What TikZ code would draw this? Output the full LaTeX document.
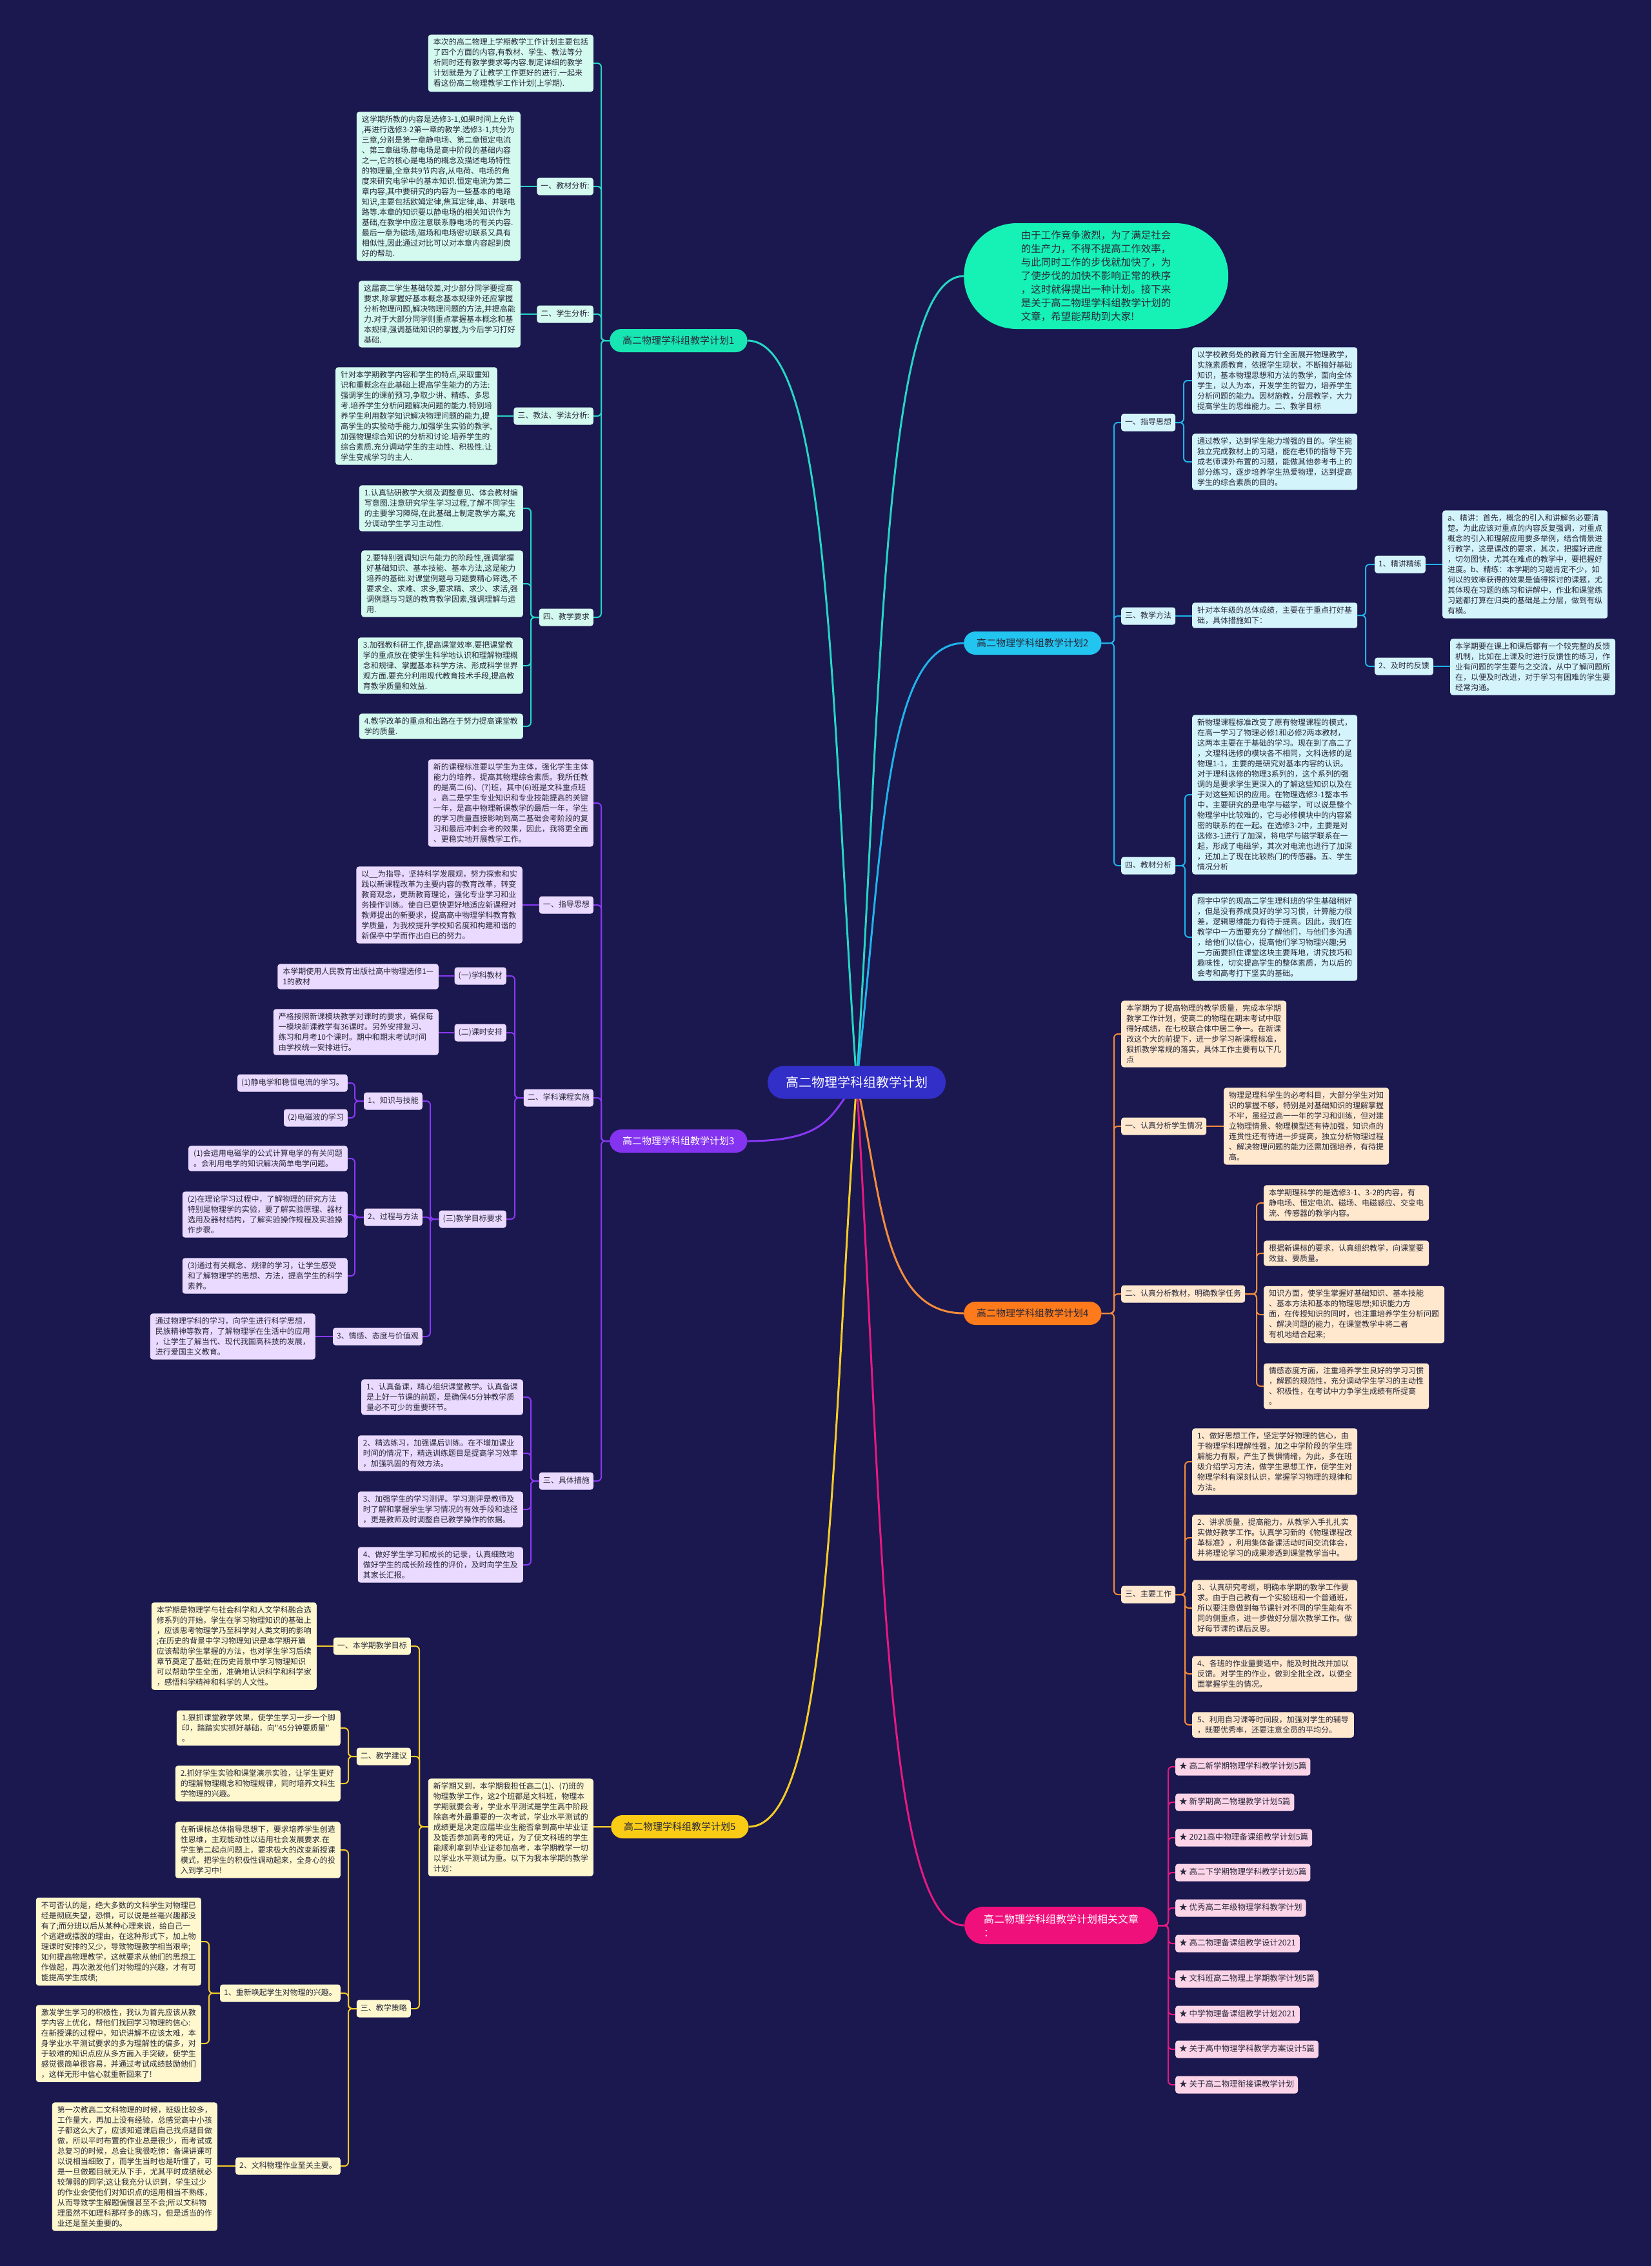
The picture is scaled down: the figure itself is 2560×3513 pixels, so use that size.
\documentclass[tikz,border=0pt]{standalone}
\usepackage{fontspec}
\newfontfamily\cjk{Noto Sans CJK SC}
\usetikzlibrary{calc}
\pgfdeclarelayer{bgl}
\pgfdeclarelayer{lnl}
\pgfsetlayers{bgl,lnl,main}
\definecolor{bgc}{RGB}{26,24,78}
\definecolor{txt}{RGB}{40,40,58}
\definecolor{ctrF}{RGB}{50,46,200}
\definecolor{introF}{RGB}{22,242,182}
\definecolor{tealD}{RGB}{38,214,196}
\definecolor{tealF}{RGB}{24,230,178}
\definecolor{tealL}{RGB}{212,250,240}
\definecolor{cyanD}{RGB}{30,180,235}
\definecolor{cyanF}{RGB}{34,196,240}
\definecolor{cyanL}{RGB}{212,244,252}
\definecolor{purD}{RGB}{138,56,245}
\definecolor{purF}{RGB}{132,52,240}
\definecolor{purL}{RGB}{234,218,255}
\definecolor{orgD}{RGB}{245,140,60}
\definecolor{orgF}{RGB}{255,122,26}
\definecolor{orgL}{RGB}{255,232,206}
\definecolor{yelD}{RGB}{245,205,40}
\definecolor{yelF}{RGB}{250,204,22}
\definecolor{yelL}{RGB}{255,248,206}
\definecolor{magD}{RGB}{232,24,130}
\definecolor{magF}{RGB}{240,16,124}
\definecolor{magL}{RGB}{252,212,232}
\newcommand\conL[4]{\draw[#1] (#2.west) -- (#2.west -| #4) |- (#3.east);}
\newcommand\conR[4]{\draw[#1] (#2.east) -- (#2.east -| #4) |- (#3.west);}
\newcommand\strL[3]{\draw[#1] (#2.west) -- (#2.west -| #3.east);}
\newcommand\strR[3]{\draw[#1] (#2.east) -- (#2.east -| #3.west);}
\tikzset{
  boxbase/.style={rounded corners=4pt, inner xsep=8pt, inner ysep=6pt, align=left, text=txt, font={\cjk\fontsize{12}{16}\selectfont}},
  lblbase/.style={rounded corners=4pt, inner xsep=6pt, inner ysep=7pt, text height=10pt, text depth=3pt, text=txt, font={\cjk\fontsize{12}{16}\selectfont}},
  mainbr/.style={rounded corners=18pt, minimum height=36pt, inner xsep=20pt, inner ysep=0pt, font={\cjk\fontsize{15}{18}\selectfont}},
  tbox/.style={boxbase, fill=tealL}, tlbl/.style={lblbase, fill=tealL},
  cbox/.style={boxbase, fill=cyanL}, clbl/.style={lblbase, fill=cyanL},
  pbox/.style={boxbase, fill=purL}, plbl/.style={lblbase, fill=purL},
  obox/.style={boxbase, fill=orgL}, olbl/.style={lblbase, fill=orgL},
  ybox/.style={boxbase, fill=yelL}, ylbl/.style={lblbase, fill=yelL},
  mlbl/.style={lblbase, fill=magL, font={\cjk\fontsize{12.5}{16}\selectfont}},
  tln/.style={draw=tealD, line width=2pt, rounded corners=6pt},
  cln/.style={draw=cyanD, line width=2pt, rounded corners=6pt},
  pln/.style={draw=purD, line width=2pt, rounded corners=6pt},
  oln/.style={draw=orgD, line width=2pt, rounded corners=6pt},
  yln/.style={draw=yelD, line width=2pt, rounded corners=6pt},
  mln/.style={draw=magD, line width=2pt, rounded corners=6pt},
}
\begin{document}
\begin{tikzpicture}[x=1pt,y=-1pt]
\useasboundingbox (0,0) rectangle (2560,3513);
\begin{pgfonlayer}{bgl}
\fill[bgc] (0,0) rectangle (2560,3513);
\end{pgfonlayer}

% ---------- center ----------
\node[fill=ctrF, text=white, rounded corners=25pt, minimum height=51pt, inner xsep=28pt, inner ysep=0pt, font={\cjk\fontsize{20}{24}\selectfont}] (ctr) at (1328,1678) {高二物理学科组教学计划};

% ---------- main branches ----------
\node[mainbr, fill=tealF, text=txt, anchor=west] (b1) at (945,528) {高二物理学科组教学计划1};
\node[mainbr, fill=purF, text=white, anchor=west] (b3) at (945,1769) {高二物理学科组教学计划3};
\node[mainbr, fill=yelF, text=txt, anchor=west] (b5) at (947,2832) {高二物理学科组教学计划5};
\node[mainbr, fill=cyanF, text=txt, anchor=west] (b2) at (1494,997) {高二物理学科组教学计划2};
\node[mainbr, fill=orgF, text=txt, anchor=west] (b4) at (1494,2036) {高二物理学科组教学计划4};
\node[fill=magF, text=white, anchor=west, rounded corners=29pt, minimum height=58pt, inner xsep=30pt, inner ysep=10pt, align=left, font={\cjk\fontsize{16}{21}\selectfont}] (rel) at (1495,2985) {高二物理学科组教学计划相关文章\\：};
\node[fill=introF, text=txt, anchor=west, rounded corners=82pt, minimum width=410pt, minimum height=164pt, align=left, font={\cjk\fontsize{15.5}{21}\selectfont}] (intro) at (1494,428) {由于工作竞争激烈，为了满足社会\\的生产力，不得不提高工作效率，\\与此同时工作的步伐就加快了，为\\了使步伐的加快不影响正常的秩序\\，这时就得提出一种计划。接下来\\是关于高二物理学科组教学计划的\\文章，希望能帮助到大家!};

% ---------- section 1 ----------
\node[tbox, anchor=east] (s1i) at (920,98) {本次的高二物理上学期教学工作计划主要包括\\了四个方面的内容,有教材、学生、教法等分\\析同时还有教学要求等内容.制定详细的教学\\计划就是为了让教学工作更好的进行.一起来\\看这份高二物理教学工作计划(上学期).};
\node[tlbl, anchor=east] (s1a) at (920,289) {一、教材分析:};
\node[tbox, anchor=east] (s1ab) at (807,289) {这学期所教的内容是选修3-1,如果时间上允许\\,再进行选修3-2第一章的教学.选修3-1,共分为\\三章,分别是第一章静电场、第二章恒定电流\\、第三章磁场.静电场是高中阶段的基础内容\\之一,它的核心是电场的概念及描述电场特性\\的物理量,全章共9节内容,从电荷、电场的角\\度来研究电学中的基本知识.恒定电流为第二\\章内容,其中要研究的内容为一些基本的电路\\知识,主要包括欧姆定律,焦耳定律,串、并联电\\路等.本章的知识要以静电场的相关知识作为\\基础,在教学中应注意联系静电场的有关内容.\\最后一章为磁场,磁场和电场密切联系又具有\\相似性,因此通过对比可以对本章内容起到良\\好的帮助.};
\node[tlbl, anchor=east] (s1b) at (920,487) {二、学生分析:};
\node[tbox, anchor=east] (s1bb) at (807,487) {这届高二学生基础较差,对少部分同学要提高\\要求,除掌握好基本概念基本规律外还应掌握\\分析物理问题,解决物理问题的方法,并提高能\\力.对于大部分同学则重点掌握基本概念和基\\本规律,强调基础知识的掌握,为今后学习打好\\基础.};
\node[tlbl, anchor=east] (s1c) at (920,645) {三、教法、学法分析:};
\node[tbox, anchor=east] (s1cb) at (771,645) {针对本学期教学内容和学生的特点,采取重知\\识和重概念在此基础上提高学生能力的方法:\\强调学生的课前预习,争取少讲、精练、多思\\考.培养学生分析问题解决问题的能力.特别培\\养学生利用数学知识解决物理问题的能力,提\\高学生的实验动手能力,加强学生实验的教学,\\加强物理综合知识的分析和讨论.培养学生的\\综合素质.充分调动学生的主动性、积极性.让\\学生变成学习的主人.};
\node[tlbl, anchor=east] (s1d) at (920,957) {四、教学要求};
\node[tbox, anchor=east] (s1d1) at (811,788) {1.认真钻研教学大纲及调整意见、体会教材编\\写意图.注意研究学生学习过程,了解不同学生\\的主要学习障碍,在此基础上制定教学方案,充\\分调动学生学习主动性.};
\node[tbox, anchor=east] (s1d2) at (811,905) {2.要特别强调知识与能力的阶段性,强调掌握\\好基础知识、基本技能、基本方法,这是能力\\培养的基础.对课堂例题与习题要精心筛选,不\\要求全、求难、求多,要求精、求少、求活,强\\调例题与习题的教育教学因素,强调理解与运\\用.};
\node[tbox, anchor=east] (s1d3) at (811,1032) {3.加强教科研工作,提高课堂效率.要把课堂教\\学的重点放在使学生科学地认识和理解物理概\\念和规律、掌握基本科学方法、形成科学世界\\观方面.要充分利用现代教育技术手段,提高教\\育教学质量和效益.};
\node[tbox, anchor=east] (s1d4) at (811,1126) {4.教学改革的重点和出路在于努力提高课堂教\\学的质量.};

% ---------- section 3 ----------
\node[pbox, anchor=east] (s3i) at (920,1245) {新的课程标准要以学生为主体，强化学生主体\\能力的培养，提高其物理综合素质。我所任教\\的是高二(6)、(7)班，其中(6)班是文科重点班\\。高二是学生专业知识和专业技能提高的关键\\一年，是高中物理新课教学的最后一年，学生\\的学习质量直接影响到高二基础会考阶段的复\\习和最后冲刺会考的效果，因此，我将更全面\\、更稳实地开展教学工作。};
\node[plbl, anchor=east] (s3a) at (920,1403) {一、指导思想};
\node[pbox, anchor=east] (s3ab) at (810,1403) {以\_\_为指导，坚持科学发展观，努力探索和实\\践以新课程改革为主要内容的教育改革，转变\\教育观念，更新教育理论，强化专业学习和业\\务操作训练。使自已更快更好地适应新课程对\\教师提出的新要求，提高高中物理学科教育教\\学质量，为我校提升学校知名度和构建和谐的\\新保亭中学而作出自已的努力。};
\node[plbl, anchor=east] (s3b) at (920,1702) {二、学科课程实施};
\node[plbl, anchor=east] (s3b1) at (785,1513) {(一)学科教材};
\node[pbox, anchor=east] (s3b1b) at (680,1514) {本学期使用人民教育出版社高中物理选修1—\\1的教材};
\node[plbl, anchor=east] (s3b2) at (785,1601) {(二)课时安排};
\node[pbox, anchor=east] (s3b2b) at (680,1600) {严格按照新课模块教学对课时的要求，确保每\\一模块新课教学有36课时。另外安排复习、\\练习和月考10个课时。期中和期末考试时间\\由学校统一安排进行。};
\node[plbl, anchor=east] (s3b3) at (785,1890) {(三)教学目标要求};
\node[plbl, anchor=east] (s3k) at (655,1707) {1、知识与技能};
\node[plbl, anchor=east] (s3k1) at (539,1679) {(1)静电学和稳恒电流的学习。};
\node[plbl, anchor=east] (s3k2) at (539,1733) {(2)电磁波的学习};
\node[plbl, anchor=east] (s3g) at (655,1887) {2、过程与方法};
\node[pbox, anchor=east] (s3g1) at (539,1796) {(1)会运用电磁学的公式计算电学的有关问题\\。会利用电学的知识解决简单电学问题。};
\node[pbox, anchor=east] (s3g2) at (539,1883) {(2)在理论学习过程中，了解物理的研究方法\\特别是物理学的实验，要了解实验原理、器材\\选用及器材结构，了解实验操作规程及实验操\\作步骤。};
\node[pbox, anchor=east] (s3g3) at (539,1978) {(3)通过有关概念、规律的学习，让学生感受\\和了解物理学的思想、方法，提高学生的科学\\素养。};
\node[plbl, anchor=east] (s3e) at (655,2072) {3、情感、态度与价值观};
\node[pbox, anchor=east] (s3eb) at (489,2072) {通过物理学科的学习，向学生进行科学思想，\\民族精神等教育，了解物理学在生活中的应用\\，让学生了解当代、现代我国高科技的发展，\\进行爱国主义教育。};
\node[plbl, anchor=east] (s3c) at (920,2296) {三、具体措施};
\node[pbox, anchor=east] (s3c1) at (811,2166) {1、认真备课，精心组织课堂教学。认真备课\\是上好一节课的前题，是确保45分钟教学质\\量必不可少的重要环节。};
\node[pbox, anchor=east] (s3c2) at (811,2253) {2、精选练习，加强课后训练。在不增加课业\\时间的情况下，精选训练题目是提高学习效率\\，加强巩固的有效方法。};
\node[pbox, anchor=east] (s3c3) at (811,2340) {3、加强学生的学习测评。学习测评是教师及\\时了解和掌握学生学习情况的有效手段和途径\\，更是教师及时调整自已教学操作的依据。};
\node[pbox, anchor=east] (s3c4) at (811,2426) {4、做好学生学习和成长的记录，认真细致地\\做好学生的成长阶段性的评价，及时向学生及\\其家长汇报。};

% ---------- section 5 ----------
\node[ybox, anchor=east] (s5i) at (920,2833) {新学期又到，本学期我担任高二(1)、(7)班的\\物理教学工作，这2个班都是文科班，物理本\\学期就要会考，学业水平测试是学生高中阶段\\除高考外最重要的一次考试，学业水平测试的\\成绩更是决定应届毕业生能否拿到高中毕业证\\及能否参加高考的凭证，为了使文科班的学生\\能顺利拿到毕业证参加高考，本学期教学一切\\以学业水平测试为重。以下为我本学期的教学\\计划：};
\node[ylbl, anchor=east] (s5a) at (637,2552) {一、本学期教学目标};
\node[ybox, anchor=east] (s5ab) at (491,2552) {本学期是物理学与社会科学和人文学科融合选\\修系列的开始，学生在学习物理知识的基础上\\，应该思考物理学乃至科学对人类文明的影响\\;在历史的背景中学习物理知识是本学期开篇\\应该帮助学生掌握的方法，也对学生学习后续\\章节奠定了基础;在历史背景中学习物理知识\\可以帮助学生全面，准确地认识科学和科学家\\，感悟科学精神和科学的人文性。};
\node[ylbl, anchor=east] (s5b) at (637,2723) {二、教学建议};
\node[ybox, anchor=east] (s5b1) at (528,2679) {1.狠抓课堂教学效果，使学生学习一步一个脚\\印，踏踏实实抓好基础，向"45分钟要质量"\\。};
\node[ybox, anchor=east] (s5b2) at (528,2765) {2.抓好学生实验和课堂演示实验，让学生更好\\的理解物理概念和物理规律，同时培养文科生\\学物理的兴趣。};
\node[ylbl, anchor=east] (s5c) at (637,3114) {三、教学策略};
\node[ybox, anchor=east] (s5c0) at (528,2868) {在新课标总体指导思想下，要求培养学生创造\\性思维，主观能动性以适用社会发展要求.在\\学生第二起点问题上，要求极大的改变新授课\\模式，把学生的积极性调动起来，全身心的投\\入到学习中!};
\node[ylbl, anchor=east] (s5c1) at (528,3090) {1、重新唤起学生对物理的兴趣。};
\node[ybox, anchor=east] (s5c1a) at (312,3010) {不可否认的是，绝大多数的文科学生对物理已\\经是彻底失望，恐惧，可以说是丝毫兴趣都没\\有了;而分班以后从某种心理来说，给自己一\\个逃避或摆脱的理由，在这种形式下，加上物\\理课时安排的又少，导致物理教学相当艰辛;\\如何提高物理教学，这就要求从他们的思想工\\作做起，再次激发他们对物理的兴趣，才有可\\能提高学生成绩;};
\node[ybox, anchor=east] (s5c1b) at (312,3168) {激发学生学习的积极性，我认为首先应该从教\\学内容上优化，帮他们找回学习物理的信心:\\在新授课的过程中，知识讲解不应该太难，本\\身学业水平测试要求的多为理解性的偏多，对\\于较难的知识点应从多方面入手突破，使学生\\感觉很简单很容易，并通过考试成绩鼓励他们\\，这样无形中信心就重新回来了!};
\node[ylbl, anchor=east] (s5c2) at (528,3358) {2、文科物理作业至关主要。};
\node[ybox, anchor=east] (s5c2a) at (337,3359) {第一次教高二文科物理的时候，班级比较多，\\工作量大，再加上没有经验，总感觉高中小孩\\子都这么大了，应该知道课后自己找点题目做\\做，所以平时布置的作业总是很少，而考试或\\总复习的时候，总会让我很吃惊：备课讲课可\\以说相当细致了，而学生当时也是听懂了，可\\是一旦做题目就无从下手，尤其平时成绩就必\\较薄弱的同学;这让我充分认识到，学生过少\\的作业会使他们对知识点的运用相当不熟练，\\从而导致学生解题偏慢甚至不会;所以文科物\\理虽然不如理科那样多的练习，但是适当的作\\业还是至关重要的。};

% ---------- section 2 ----------
\node[clbl, anchor=west] (s2a) at (1738,655) {一、指导思想};
\node[cbox, anchor=west] (s2a1) at (1848,590) {以学校教务处的教育方针全面展开物理教学，\\实施素质教育，依据学生现状，不断搞好基础\\知识，基本物理思想和方法的教学，面向全体\\学生，以人为本，开发学生的智力，培养学生\\分析问题的能力。因材施教，分层教学，大力\\提高学生的思维能力。二、教学目标};
\node[cbox, anchor=west] (s2a2) at (1848,716) {通过教学，达到学生能力增强的目的。学生能\\独立完成教材上的习题，能在老师的指导下完\\成老师课外布置的习题，能做其他参考书上的\\部分练习，逐步培养学生热爱物理，达到提高\\学生的综合素质的目的。};
\node[clbl, anchor=west] (s2b) at (1738,955) {三、教学方法};
\node[cbox, anchor=west] (s2bb) at (1848,954) {针对本年级的总体成绩，主要在于重点打好基\\础，具体措施如下：};
\node[clbl, anchor=west] (s2b1) at (2131,875) {1、精讲精练};
\node[cbox, anchor=west] (s2b1a) at (2236,875) {a、精讲：首先，概念的引入和讲解务必要清\\楚。为此应该对重点的内容反复强调，对重点\\概念的引入和理解应用要多举例，结合情景进\\行教学，这是课改的要求，其次，把握好进度\\，切勿图快，尤其在难点的教学中，要把握好\\进度。b、精练：本学期的习题肯定不少，如\\何以的效率获得的效果是值得探讨的课题，尤\\其体现在习题的练习和讲解中，作业和课堂练\\习题都打算在归类的基础是上分层，做到有纵\\有横。};
\node[clbl, anchor=west] (s2b2) at (2131,1033) {2、及时的反馈};
\node[cbox, anchor=west] (s2b2a) at (2248,1034) {本学期要在课上和课后都有一个较完整的反馈\\机制，比如在上课及时进行反馈性的练习，作\\业有问题的学生要与之交流，从中了解问题所\\在，以便及时改进，对于学习有困难的学生要\\经常沟通。};
\node[clbl, anchor=west] (s2c) at (1738,1342) {四、教材分析};
\node[cbox, anchor=west] (s2c1) at (1848,1232) {新物理课程标准改变了原有物理课程的模式，\\在高一学习了物理必修1和必修2两本教材，\\这两本主要在于基础的学习。现在到了高二了\\，文理科选修的模块各不相同，文科选修的是\\物理1-1，主要的是研究对基本内容的认识。\\对于理科选修的物理3系列的，这个系列的强\\调的是要求学生更深入的了解这些知识以及在\\于对这些知识的应用。在物理选修3-1整本书\\中，主要研究的是电学与磁学，可以说是整个\\物理学中比较难的，它与必修模块中的内容紧\\密的联系的在一起。在选修3-2中，主要是对\\选修3-1进行了加深，将电学与磁学联系在一\\起，形成了电磁学，其次对电流也进行了加深\\，还加上了现在比较热门的传感器。五、学生\\情况分析};
\node[cbox, anchor=west] (s2c2) at (1848,1453) {翔宇中学的现高二学生理科班的学生基础稍好\\，但是没有养成良好的学习习惯，计算能力很\\差，逻辑思维能力有待于提高。因此，我们在\\教学中一方面要充分了解他们，与他们多沟通\\，给他们以信心，提高他们学习物理兴趣;另\\一方面要抓住课堂这块主要阵地，讲究技巧和\\趣味性，切实提高学生的整体素质，为以后的\\会考和高考打下坚实的基础。};

% ---------- section 4 ----------
\node[obox, anchor=west] (s4i) at (1738,1603) {本学期为了提高物理的教学质量，完成本学期\\教学工作计划，使高二的物理在期末考试中取\\得好成绩，在七校联合体中居二争一。在新课\\改这个大的前提下，进一步学习新课程标准，\\狠抓教学常规的落实，具体工作主要有以下几\\点};
\node[olbl, anchor=west] (s4a) at (1738,1746) {一、认真分析学生情况};
\node[obox, anchor=west] (s4ab) at (1897,1746) {物理是理科学生的必考科目，大部分学生对知\\识的掌握不够，特别是对基础知识的理解掌握\\不牢，虽经过高一一年的学习和训练，但对建\\立物理情景、物理模型还有待加强，知识点的\\连贯性还有待进一步提高，独立分析物理过程\\、解决物理问题的能力还需加强培养，有待提\\高。};
\node[olbl, anchor=west] (s4b) at (1738,2006) {二、认真分析教材，明确教学任务};
\node[obox, anchor=west] (s4b1) at (1959,1865) {本学期理科学的是选修3-1、3-2的内容，有\\静电场、恒定电流、磁场、电磁感应、交变电\\流、传感器的教学内容。};
\node[obox, anchor=west] (s4b2) at (1959,1943) {根据新课标的要求，认真组织教学，向课堂要\\效益、要质量。};
\node[obox, anchor=west] (s4b3) at (1959,2038) {知识方面，使学生掌握好基础知识、基本技能\\、基本方法和基本的物理思想;知识能力方\\面，在传授知识的同时，也注重培养学生分析问题\\、解决问题的能力，在课堂教学中将二者\\有机地结合起来;};
\node[obox, anchor=west] (s4b4) at (1959,2149) {情感态度方面，注重培养学生良好的学习习惯\\，解题的规范性，充分调动学生学习的主动性\\、积极性，在考试中力争学生成绩有所提高\\。};
\node[olbl, anchor=west] (s4c) at (1738,2472) {三、主要工作};
\node[obox, anchor=west] (s4c1) at (1848,2266) {1、做好思想工作，坚定学好物理的信心，由\\于物理学科理解性强，加之中学阶段的学生理\\解能力有限，产生了畏惧情绪，为此，多在班\\级介绍学习方法，做学生思想工作，使学生对\\物理学科有深刻认识，掌握学习物理的规律和\\方法。};
\node[obox, anchor=west] (s4c2) at (1848,2384) {2、讲求质量，提高能力，从教学入手扎扎实\\实做好教学工作。认真学习新的《物理课程改\\革标准》，利用集体备课活动时间交流体会，\\并将理论学习的成果渗透到课堂教学当中。};
\node[obox, anchor=west] (s4c3) at (1848,2493) {3、认真研究考纲，明确本学期的教学工作要\\求。由于自己教有一个实验班和一个普通班，\\所以要注意做到每节课针对不同的学生能有不\\同的侧重点，进一步做好分层次教学工作。做\\好每节课的课后反思。};
\node[obox, anchor=west] (s4c4) at (1848,2595) {4、各班的作业量要适中，能及时批改并加以\\反馈。对学生的作业，做到全批全改，以便全\\面掌握学生的情况。};
\node[obox, anchor=west] (s4c5) at (1848,2674) {5、利用自习课等时间段，加强对学生的辅导\\，既要优秀率，还要注意全员的平均分。};

% ---------- related ----------
\node[mlbl, anchor=west] (r1) at (1822,2739) {★ 高二新学期物理学科教学计划5篇};
\node[mlbl, anchor=west] (r2) at (1822,2794) {★ 新学期高二物理教学计划5篇};
\node[mlbl, anchor=west] (r3) at (1822,2849) {★ 2021高中物理备课组教学计划5篇};
\node[mlbl, anchor=west] (r4) at (1822,2903) {★ 高二下学期物理学科教学计划5篇};
\node[mlbl, anchor=west] (r5) at (1822,2958) {★ 优秀高二年级物理学科教学计划};
\node[mlbl, anchor=west] (r6) at (1822,3013) {★ 高二物理备课组教学设计2021};
\node[mlbl, anchor=west] (r7) at (1822,3068) {★ 文科班高二物理上学期教学计划5篇};
\node[mlbl, anchor=west] (r8) at (1822,3123) {★ 中学物理备课组教学计划2021};
\node[mlbl, anchor=west] (r9) at (1822,3177) {★ 关于高中物理学科教学方案设计5篇};
\node[mlbl, anchor=west] (r10) at (1822,3232) {★ 关于高二物理衔接课教学计划};

% ---------- trunk coordinates ----------
\coordinate (t1) at (932,0);
\coordinate (t1d) at (823,0);
\coordinate (t3) at (932,0);
\coordinate (t3b) at (798,0);
\coordinate (t3b3) at (667,0);
\coordinate (t3k) at (550,0);
\coordinate (t3c) at (823,0);
\coordinate (t5) at (650,0);
\coordinate (t5b) at (540,0);
\coordinate (t5c1) at (324,0);
\coordinate (t2) at (1727,0);
\coordinate (t2a) at (1835,0);
\coordinate (t2b) at (2117,0);
\coordinate (t2c) at (1837,0);
\coordinate (t4) at (1727,0);
\coordinate (t4b) at (1948,0);
\coordinate (t4c) at (1837,0);
\coordinate (t6) at (1811,0);

\begin{pgfonlayer}{lnl}
% center connectors
\draw[draw=tealD, line width=3pt] (b1.east) .. controls (1288,528) and (1288,1103) .. (ctr.center);
\draw[draw=purD, line width=3pt] (b3.east) .. controls (1288,1769) and (1288,1724) .. (ctr.center);
\draw[draw=yelD, line width=3pt] (b5.east) .. controls (1288,2832) and (1288,2255) .. (ctr.center);
\draw[draw=tealD, line width=3pt] (intro.west) .. controls (1368,428) and (1368,1053) .. (ctr.center);
\draw[draw=cyanD, line width=3pt] (b2.west) .. controls (1368,997) and (1368,1338) .. (ctr.center);
\draw[draw=orgD, line width=3pt] (b4.west) .. controls (1368,2036) and (1368,1857) .. (ctr.center);
\draw[draw=magD, line width=3pt] (rel.west) .. controls (1368,2985) and (1368,2332) .. (ctr.center);
% section 1
\conL{tln}{b1}{s1i}{t1}
\conL{tln}{b1}{s1a}{t1}
\conL{tln}{b1}{s1b}{t1}
\conL{tln}{b1}{s1c}{t1}
\conL{tln}{b1}{s1d}{t1}
\strL{tln}{s1a}{s1ab}
\strL{tln}{s1b}{s1bb}
\strL{tln}{s1c}{s1cb}
\conL{tln}{s1d}{s1d1}{t1d}
\conL{tln}{s1d}{s1d2}{t1d}
\conL{tln}{s1d}{s1d3}{t1d}
\conL{tln}{s1d}{s1d4}{t1d}
% section 3
\conL{pln}{b3}{s3i}{t3}
\conL{pln}{b3}{s3a}{t3}
\conL{pln}{b3}{s3b}{t3}
\conL{pln}{b3}{s3c}{t3}
\strL{pln}{s3a}{s3ab}
\conL{pln}{s3b}{s3b1}{t3b}
\conL{pln}{s3b}{s3b2}{t3b}
\conL{pln}{s3b}{s3b3}{t3b}
\strL{pln}{s3b1}{s3b1b}
\strL{pln}{s3b2}{s3b2b}
\conL{pln}{s3b3}{s3k}{t3b3}
\conL{pln}{s3b3}{s3g}{t3b3}
\conL{pln}{s3b3}{s3e}{t3b3}
\conL{pln}{s3k}{s3k1}{t3k}
\conL{pln}{s3k}{s3k2}{t3k}
\conL{pln}{s3g}{s3g1}{t3k}
\conL{pln}{s3g}{s3g2}{t3k}
\conL{pln}{s3g}{s3g3}{t3k}
\strL{pln}{s3e}{s3eb}
\conL{pln}{s3c}{s3c1}{t3c}
\conL{pln}{s3c}{s3c2}{t3c}
\conL{pln}{s3c}{s3c3}{t3c}
\conL{pln}{s3c}{s3c4}{t3c}
% section 5
\strL{yln}{b5}{s5i}
\conL{yln}{b5}{s5a}{t5}
\conL{yln}{b5}{s5b}{t5}
\conL{yln}{b5}{s5c}{t5}
\strL{yln}{s5a}{s5ab}
\conL{yln}{s5b}{s5b1}{t5b}
\conL{yln}{s5b}{s5b2}{t5b}
\conL{yln}{s5c}{s5c0}{t5b}
\conL{yln}{s5c}{s5c1}{t5b}
\conL{yln}{s5c}{s5c2}{t5b}
\conL{yln}{s5c1}{s5c1a}{t5c1}
\conL{yln}{s5c1}{s5c1b}{t5c1}
\strL{yln}{s5c2}{s5c2a}
% section 2
\conR{cln}{b2}{s2a}{t2}
\conR{cln}{b2}{s2b}{t2}
\conR{cln}{b2}{s2c}{t2}
\conR{cln}{s2a}{s2a1}{t2a}
\conR{cln}{s2a}{s2a2}{t2a}
\strR{cln}{s2b}{s2bb}
\conR{cln}{s2bb}{s2b1}{t2b}
\conR{cln}{s2bb}{s2b2}{t2b}
\strR{cln}{s2b1}{s2b1a}
\strR{cln}{s2b2}{s2b2a}
\conR{cln}{s2c}{s2c1}{t2c}
\conR{cln}{s2c}{s2c2}{t2c}
% section 4
\conR{oln}{b4}{s4i}{t4}
\conR{oln}{b4}{s4a}{t4}
\conR{oln}{b4}{s4b}{t4}
\conR{oln}{b4}{s4c}{t4}
\strR{oln}{s4a}{s4ab}
\conR{oln}{s4b}{s4b1}{t4b}
\conR{oln}{s4b}{s4b2}{t4b}
\conR{oln}{s4b}{s4b3}{t4b}
\conR{oln}{s4b}{s4b4}{t4b}
\conR{oln}{s4c}{s4c1}{t4c}
\conR{oln}{s4c}{s4c2}{t4c}
\conR{oln}{s4c}{s4c3}{t4c}
\conR{oln}{s4c}{s4c4}{t4c}
\conR{oln}{s4c}{s4c5}{t4c}
% related
\conR{mln}{rel}{r1}{t6}
\conR{mln}{rel}{r2}{t6}
\conR{mln}{rel}{r3}{t6}
\conR{mln}{rel}{r4}{t6}
\conR{mln}{rel}{r5}{t6}
\conR{mln}{rel}{r6}{t6}
\conR{mln}{rel}{r7}{t6}
\conR{mln}{rel}{r8}{t6}
\conR{mln}{rel}{r9}{t6}
\conR{mln}{rel}{r10}{t6}
\end{pgfonlayer}
\end{tikzpicture}
\end{document}
